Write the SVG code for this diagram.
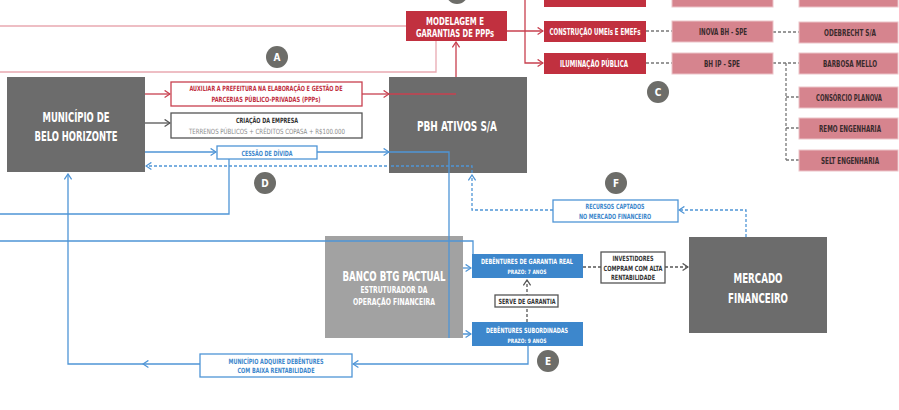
<svg xmlns="http://www.w3.org/2000/svg" width="899" height="410" viewBox="0 0 899 410">
<style>
text{font-family:"Liberation Sans Narrow","DejaVu Sans Condensed","Liberation Sans",sans-serif;font-weight:bold;text-anchor:middle}
.big{fill:#fff;font-size:14.5px}
.sm{font-size:7.2px}
.w{fill:#fff}
.dark{fill:#3a2b2d}
.blue{fill:#3d87cc}
.red{fill:#c1303f}
.gray{fill:#8a8a8a}
.k{fill:#333}
.gbox{fill:#6c6c6c}
.lbox{fill:#a2a2a2}
.crim{fill:#c1303f}
.pink{fill:#d6848e;stroke:#ecc3c8;stroke-width:1}
.bbox{fill:#3d87cc}
.lbl-r{fill:#fff;stroke:#c8404f;stroke-width:1.3}
.lbl-k{fill:#fff;stroke:#555;stroke-width:1.3}
.lbl-b{fill:#fff;stroke:#4f95d6;stroke-width:1.3}
.circ{fill:#6d6d69}
.ln-r{fill:none;stroke:#c8404f;stroke-width:1.3}
.ln-p{fill:none;stroke:#e9a9b1;stroke-width:1.3}
.ln-k{fill:none;stroke:#555;stroke-width:1.3}
.ln-b{fill:none;stroke:#4f95d6;stroke-width:1.3}
.ln-bd{fill:none;stroke:#4f95d6;stroke-width:1.3;stroke-dasharray:3 2}
.ln-gd{fill:none;stroke:#777;stroke-width:1.3;stroke-dasharray:3 2}
.ln-kd{fill:none;stroke:#555;stroke-width:1.3;stroke-dasharray:3 2}
</style>
<defs>
<marker id="ar" viewBox="0 0 10 10" refX="9" refY="5" markerWidth="9" markerHeight="9" markerUnits="userSpaceOnUse" orient="auto"><path d="M3,1 L9,5 L3,9" fill="none" stroke="#c8404f" stroke-width="1.4"/></marker>
<marker id="ak" viewBox="0 0 10 10" refX="9" refY="5" markerWidth="9" markerHeight="9" markerUnits="userSpaceOnUse" orient="auto"><path d="M3,1 L9,5 L3,9" fill="none" stroke="#555" stroke-width="1.4"/></marker>
<marker id="ab" viewBox="0 0 10 10" refX="9" refY="5" markerWidth="9" markerHeight="9" markerUnits="userSpaceOnUse" orient="auto"><path d="M3,1 L9,5 L3,9" fill="none" stroke="#4f95d6" stroke-width="1.4"/></marker>
</defs>

<g id="connectors">
<path class="ln-p" d="M0,26 H406"/>
<path class="ln-p" d="M0,72 H436 V41"/>
<path class="ln-r" d="M145,94 H170" marker-end="url(#ar)"/>
<path class="ln-r" d="M362,94 H389" marker-end="url(#ar)"/>
<path class="ln-r" d="M389,94 H456 V42" marker-end="url(#ar)"/>
<path class="ln-r" d="M507,31 H543" marker-end="url(#ar)"/>
<path class="ln-r" d="M525,0 V63 H543" marker-end="url(#ar)"/>
<path class="ln-k" d="M145,123 H170" marker-end="url(#ak)"/>
<path class="ln-b" d="M145,152 H216" marker-end="url(#ab)"/>
<path class="ln-b" d="M317,152 H389" marker-end="url(#ab)"/>
<path class="ln-b" d="M389,152 H449 V334 H471" marker-end="url(#ab)"/>
<path class="ln-b" d="M449,268 H471" marker-end="url(#ab)"/>
<path class="ln-b" d="M229,159 V214 H0"/>
<path class="ln-b" d="M0,241 H473 V254"/>
<path class="ln-b" d="M528,346 V364 H353" marker-end="url(#ab)"/>
<path class="ln-b" d="M200,364 H143" marker-end="url(#ab)"/>
<path class="ln-b" d="M143,364 H68 V174" marker-end="url(#ab)"/>
<path class="ln-bd" d="M746,237 V210 H679" marker-end="url(#ab)"/>
<path class="ln-bd" d="M553,210 H472 V175" marker-end="url(#ab)"/>
<path class="ln-bd" d="M472,166 H146" marker-end="url(#ab)"/>
<path class="ln-kd" d="M527,322 V280" marker-end="url(#ak)"/>
<path class="ln-kd" d="M583,267 H601"/>
<path class="ln-kd" d="M665,267 H688" marker-end="url(#ak)"/>
<path class="ln-gd" d="M646,31 H672 M646,63 H672 M773,32 H799 M773,63 H799 M786,63 V160 M786,97 H799 M786,128 H799 M786,160 H799"/>
</g>

<g id="top-partial">
<rect class="crim" x="544" y="-14" width="102" height="21"/>
<rect class="pink" x="672" y="-14" width="101" height="21"/>
<rect class="pink" x="799" y="-14" width="99" height="21"/>
<circle class="circ" cx="457" cy="-7" r="11"/>
</g>

<g id="municipio">
<rect class="gbox" x="7" y="77" width="138" height="95"/>
<text class="big" x="76" y="122" textLength="67" lengthAdjust="spacingAndGlyphs">MUNICÍPIO DE</text>
<text class="big" x="76" y="141" textLength="83" lengthAdjust="spacingAndGlyphs">BELO HORIZONTE</text>
</g>

<g id="pbh">
<rect class="gbox" x="389" y="77" width="138" height="96"/>
<text class="big" x="457" y="131" textLength="80" lengthAdjust="spacingAndGlyphs">PBH ATIVOS S/A</text>
</g>
<path class="ln-r" d="M389,94 H456"/>
<path class="ln-b" d="M389,152 H449 V173"/>
<path class="ln-bd" d="M472,173 V166 H389"/>

<g id="auxiliar">
<rect class="lbl-r" x="171" y="82" width="191" height="24"/>
<text class="sm red" x="266" y="91" textLength="153" lengthAdjust="spacingAndGlyphs">AUXILIAR A PREFEITURA NA ELABORAÇÃO E GESTÃO DE</text>
<text class="sm red" x="266" y="102" textLength="109" lengthAdjust="spacingAndGlyphs">PARCERIAS PÚBLICO-PRIVADAS (PPPs)</text>
</g>

<g id="criacao">
<rect class="lbl-k" x="171" y="113" width="191" height="25"/>
<text class="sm k" x="267" y="123" textLength="62" lengthAdjust="spacingAndGlyphs">CRIAÇÃO DA EMPRESA</text>
<text class="sm gray" x="267" y="134" textLength="156" lengthAdjust="spacingAndGlyphs" style="font-weight:normal">TERRENOS PÚBLICOS + CRÉDITOS COPASA + R$100.000</text>
</g>

<g id="cessao">
<rect class="lbl-b" x="217" y="146" width="100" height="13"/>
<text class="sm blue" x="267" y="156" textLength="51" lengthAdjust="spacingAndGlyphs">CESSÃO DE DÍVIDA</text>
</g>

<g id="modelagem">
<rect class="crim" x="406" y="11" width="101" height="30"/>
<text class="w" style="font-size:10px" x="455" y="25" textLength="58" lengthAdjust="spacingAndGlyphs">MODELAGEM  E</text>
<text class="w" style="font-size:10px" x="455" y="37" textLength="78" lengthAdjust="spacingAndGlyphs">GARANTIAS DE PPPs</text>
</g>

<g id="construcao">
<rect class="crim" x="544" y="21" width="102" height="21"/>
<text class="w" style="font-size:8px" x="595" y="35" textLength="91" lengthAdjust="spacingAndGlyphs">CONSTRUÇÃO UMEIs E EMEFs</text>
</g>
<g id="iluminacao">
<rect class="crim" x="544" y="53" width="102" height="21"/>
<text class="w" style="font-size:8px" x="594" y="67" textLength="68" lengthAdjust="spacingAndGlyphs">ILUMINAÇÃO PÚBLICA</text>
</g>

<g id="inova">
<rect class="pink" x="672" y="21" width="101" height="21"/>
<text class="dark" style="font-size:8px" x="723" y="35" textLength="48" lengthAdjust="spacingAndGlyphs">INOVA BH - SPE</text>
</g>
<g id="bhip">
<rect class="pink" x="672" y="53" width="101" height="21"/>
<text class="dark" style="font-size:8px" x="722" y="67" textLength="36" lengthAdjust="spacingAndGlyphs">BH IP - SPE</text>
</g>
<g id="odebrecht">
<rect class="pink" x="799" y="22" width="99" height="21"/>
<text class="dark" style="font-size:8px" x="850" y="36" textLength="52" lengthAdjust="spacingAndGlyphs">ODEBRECHT S/A</text>
</g>
<g id="barbosa">
<rect class="pink" x="799" y="53" width="99" height="21"/>
<text class="dark" style="font-size:8px" x="850" y="67" textLength="54" lengthAdjust="spacingAndGlyphs">BARBOSA MELLO</text>
</g>
<g id="planova">
<rect class="pink" x="799" y="87" width="99" height="21"/>
<text class="dark" style="font-size:8px" x="849" y="101" textLength="66" lengthAdjust="spacingAndGlyphs">CONSÓRCIO PLANOVA</text>
</g>
<g id="remo">
<rect class="pink" x="799" y="118" width="99" height="21"/>
<text class="dark" style="font-size:8px" x="850" y="132" textLength="62" lengthAdjust="spacingAndGlyphs">REMO ENGENHARIA</text>
</g>
<g id="selt">
<rect class="pink" x="799" y="150" width="99" height="21"/>
<text class="dark" style="font-size:8px" x="850" y="164" textLength="58" lengthAdjust="spacingAndGlyphs">SELT ENGENHARIA</text>
</g>

<g id="banco">
<rect class="lbox" x="325" y="236" width="138" height="102"/>
<text class="big" x="394" y="281" textLength="103" lengthAdjust="spacingAndGlyphs">BANCO BTG PACTUAL</text>
<text class="w" style="font-size:9.5px" x="394" y="293" textLength="67" lengthAdjust="spacingAndGlyphs">ESTRUTURADOR DA</text>
<text class="w" style="font-size:9.5px" x="394" y="305" textLength="82" lengthAdjust="spacingAndGlyphs">OPERAÇÃO FINANCEIRA</text>
</g>
<path class="ln-b" d="M325,241 H463 M449,236 V338"/>

<g id="deb-garantia">
<rect class="bbox" x="472" y="254" width="111" height="24"/>
<text class="w sm" x="527" y="264" textLength="92" lengthAdjust="spacingAndGlyphs">DEBÊNTURES DE GARANTIA REAL</text>
<text class="w" style="font-size:6px" x="527" y="274" textLength="39" lengthAdjust="spacingAndGlyphs">PRAZO: 7 ANOS</text>
</g>
<g id="deb-subordinadas">
<rect class="bbox" x="472" y="322" width="111" height="24"/>
<text class="w sm" x="527" y="333" textLength="82" lengthAdjust="spacingAndGlyphs">DEBÊNTURES SUBORDINADAS</text>
<text class="w" style="font-size:6px" x="527" y="343" textLength="39" lengthAdjust="spacingAndGlyphs">PRAZO: 9 ANOS</text>
</g>
<g id="serve">
<rect class="lbl-k" x="495" y="295" width="63" height="12"/>
<text class="sm k" x="527" y="304" textLength="57" lengthAdjust="spacingAndGlyphs">SERVE DE GARANTIA</text>
</g>
<g id="investidores">
<rect class="lbl-k" x="601" y="252" width="64" height="31"/>
<text class="sm k" x="633" y="261" textLength="41" lengthAdjust="spacingAndGlyphs">INVESTIDORES</text>
<text class="sm k" x="633" y="271" textLength="59" lengthAdjust="spacingAndGlyphs">COMPRAM COM ALTA</text>
<text class="sm k" x="633" y="280" textLength="44" lengthAdjust="spacingAndGlyphs">RENTABILIDADE</text>
</g>
<g id="mercado">
<rect class="gbox" x="689" y="237" width="138" height="96"/>
<text class="big" x="758" y="283" textLength="49" lengthAdjust="spacingAndGlyphs">MERCADO</text>
<text class="big" x="758" y="303" textLength="60" lengthAdjust="spacingAndGlyphs">FINANCEIRO</text>
</g>
<g id="recursos">
<rect class="lbl-b" x="553" y="200" width="125" height="22"/>
<text class="sm blue" x="615" y="209" textLength="59" lengthAdjust="spacingAndGlyphs">RECURSOS CAPTADOS</text>
<text class="sm blue" x="615" y="219" textLength="72" lengthAdjust="spacingAndGlyphs">NO MERCADO FINANCEIRO</text>
</g>
<g id="municipio-adquire">
<rect class="lbl-b" x="200" y="354" width="152" height="23"/>
<text class="sm blue" x="276" y="364" textLength="95" lengthAdjust="spacingAndGlyphs">MUNICÍPIO ADQUIRE DEBÊNTURES</text>
<text class="sm blue" x="276" y="373" textLength="77" lengthAdjust="spacingAndGlyphs">COM BAIXA RENTABILIDADE</text>
</g>

<g id="badge-a"><circle class="circ" cx="277" cy="57" r="11"/><text class="w" style="font-size:10px" x="277" y="61">A</text></g>
<g id="badge-c"><circle class="circ" cx="658" cy="92" r="11"/><text class="w" style="font-size:10px" x="658" y="96">C</text></g>
<g id="badge-d"><circle class="circ" cx="265" cy="183" r="11"/><text class="w" style="font-size:10px" x="265" y="187">D</text></g>
<g id="badge-f"><circle class="circ" cx="616" cy="183" r="11"/><text class="w" style="font-size:10px" x="616" y="187">F</text></g>
<g id="badge-e"><circle class="circ" cx="548" cy="361" r="11"/><text class="w" style="font-size:10px" x="548" y="365">E</text></g>
</svg>
